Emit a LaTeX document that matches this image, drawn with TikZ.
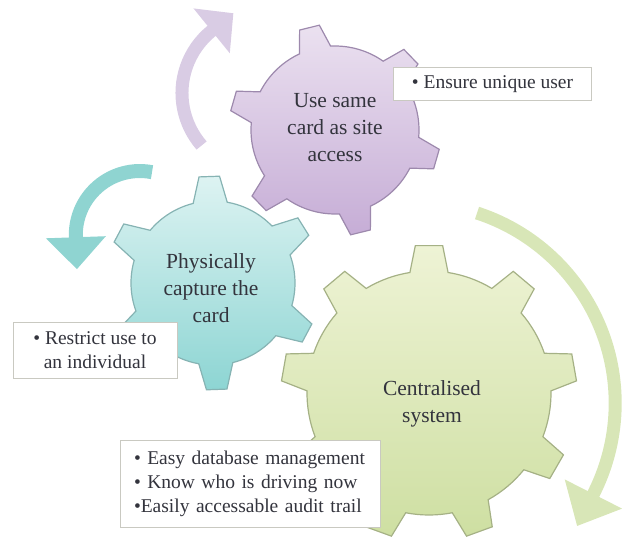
\documentclass[tikz,border=0pt]{standalone}
\usepackage{fontspec}
\setmainfont{Liberation Serif}
\usetikzlibrary{arrows.meta}

\definecolor{lilactop}{HTML}{EBE1F0}
\definecolor{lilacbot}{HTML}{C6ADD6}
\definecolor{lilacedge}{HTML}{9D89AD}
\definecolor{tealtop}{HTML}{DDF3F2}
\definecolor{tealbot}{HTML}{8DD5D3}
\definecolor{tealedge}{HTML}{86B3B3}
\definecolor{limetop}{HTML}{EEF3D5}
\definecolor{limebot}{HTML}{CEDFA2}
\definecolor{limeedge}{HTML}{A5B185}
\definecolor{lilacarrow}{HTML}{D9CCE4}
\definecolor{tealarrow}{HTML}{8FD4D1}
\definecolor{limearrow}{HTML}{D8E6B7}
\definecolor{ink}{HTML}{33343D}
\definecolor{boxline}{HTML}{C9C9C1}

% gear: centre, teeth, inner r, outer r, first tooth, base half angle, tip half angle, style
\newcommand{\gear}[8]{%
  \begin{scope}[shift={(#1)}]
    \path[#8] ({#5+#6}:#3)
      \foreach \i in {1,...,#2}{
        arc[start angle={#5+(\i-1)*360/#2+#6}, end angle={#5+\i*360/#2-#6}, radius=#3]
        -- ({#5+\i*360/#2-#7}:#4) -- ({#5+\i*360/#2+#7}:#4) -- ({#5+\i*360/#2+#6}:#3)}
      -- cycle;
  \end{scope}}

\begin{document}
\begin{tikzpicture}
  [x=1pt,y=-1pt,
   geartext/.style={align=center,text=ink,font=\fontsize{21.5}{27}\selectfont},
   notebox/.style={draw=boxline,fill=white,text=ink,line width=0.8pt,
     font=\fontsize{19.5}{24}\selectfont},
   turn/.style={line width=13pt}]
  \useasboundingbox (0,0) rectangle (624,548);

  % turning arrows
  \coordinate (lilactail) at (201.6,145.5);
  \coordinate (tealtail) at (152,172.2);
  \coordinate (limetail) at (477,213);
  \draw[turn,lilacarrow,-{Triangle[width=56pt,length=28pt]}]
    (lilactail) arc[start angle=139,end angle=231,radius=80] -- ++(-39:28);
  \draw[turn,tealarrow,line width=14pt,-{Triangle[width=58pt,length=32pt]}]
    (tealtail) arc[start angle=-79,end angle=-182,radius=64] -- ++(88:32);
  \draw[turn,limearrow,-{Triangle[width=62pt,length=36pt]}]
    (limetail) arc[start angle=-72,end angle=27,radius=200] -- ++(117:36);

  % gears
  \gear{335,130}{6}{84}{106}{-104}{11}{5.5}{top color=lilactop,bottom color=lilacbot,draw=lilacedge,line width=1.2pt}
  \gear{213,283}{6}{82}{107}{-92}{12}{5.5}{top color=tealtop,bottom color=tealbot,draw=tealedge,line width=1.2pt}
  \gear{429,393}{9}{122}{148}{-90}{9}{5.3}{top color=limetop,bottom color=limebot,draw=limeedge,line width=1.2pt}

  \node[geartext] (site) at (335,128) {Use same\\card as site\\access};
  \node[geartext] (capture) at (211,288) {Physically\\capture the\\card};
  \node[geartext] (central) at (432,404) {Centralised\\system};

  % notes
  \node[notebox,minimum width=198pt,minimum height=33pt] (unique) at (492.5,84) {• Ensure unique user};
  \node[notebox,align=center,minimum width=164pt,minimum height=56pt] (restrict) at (95,350)
    {• Restrict use to\\an individual};
  \node[notebox,align=left,text width=232pt,inner xsep=14pt,minimum height=87pt] (audit) at (250,483.5)
    {• Easy database management\\• Know who is driving now\\•Easily accessable audit trail};
\end{tikzpicture}
\end{document}
